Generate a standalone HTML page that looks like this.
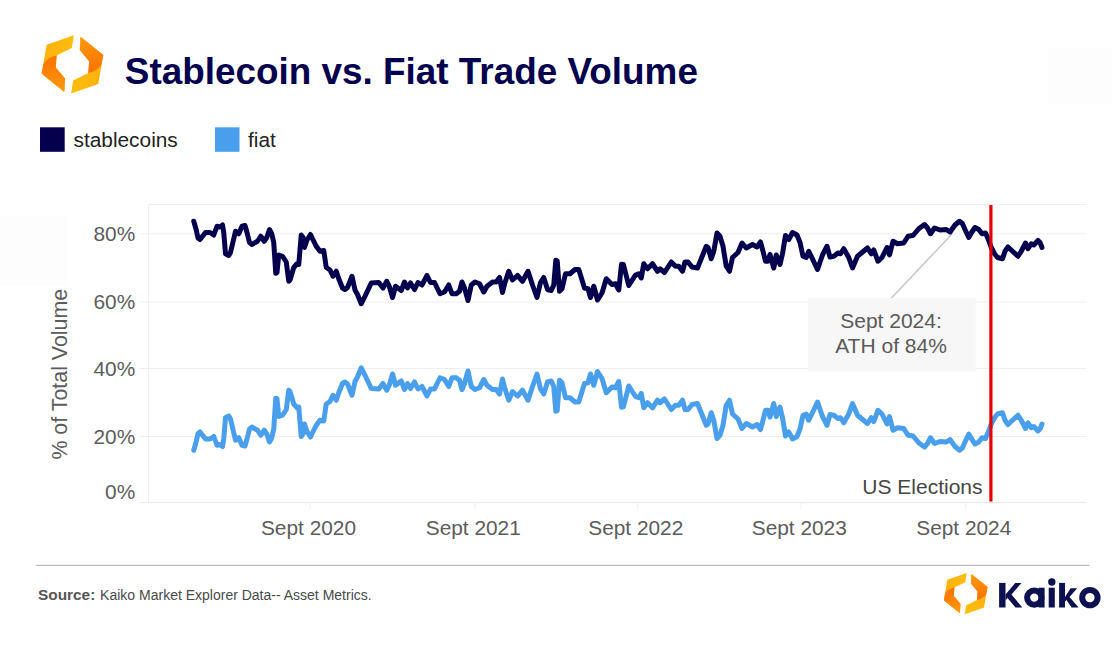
<!DOCTYPE html>
<html><head><meta charset="utf-8"><title>Stablecoin vs. Fiat Trade Volume</title>
<style>
html,body{margin:0;padding:0;background:#fff;}
body{width:1120px;height:648px;overflow:hidden;font-family:"Liberation Sans",sans-serif;}
svg{display:block;}
text{font-family:"Liberation Sans",sans-serif;}
</style></head><body>
<svg width="1120" height="648" viewBox="0 0 1120 648">
<defs>
<linearGradient id="gy" gradientUnits="userSpaceOnUse" x1="-30" y1="0" x2="2" y2="0"><stop offset="0" stop-color="#fdb20f"/><stop offset="1" stop-color="#ffbd0a"/></linearGradient>
<linearGradient id="go" gradientUnits="userSpaceOnUse" x1="-20" y1="-8" x2="-12" y2="28"><stop offset="0" stop-color="#ff7200"/><stop offset="1" stop-color="#ff9a0c"/></linearGradient>
<g id="half">
<path d="M-25.85,-19.6 L1.35,-29.1 L-0.65,-16.3 L-15.85,-8.7 L-16.65,3.1 L-7.35,14.3 L-8.15,27.6 L-30.85,9.3 Z" fill="url(#gy)"/>
<path d="M-28.85,-0.7 Q-23.5,-7.6 -15.85,-8.7 L-16.65,3.1 L-7.35,14.3 L-8.15,27.6 L-30.85,9.3 Z" fill="url(#go)"/>
</g>
<g id="logo"><use href="#half"/><use href="#half" transform="rotate(180)"/></g>
</defs>
<rect x="0" y="0" width="1120" height="648" fill="#ffffff"/>
<rect x="0" y="216" width="67" height="70" fill="#fdfdfd"/>
<rect x="1048.5" y="48" width="63" height="56" fill="#fdfdfd"/>

<use href="#logo" transform="translate(72.45,64.3)"/>
<text transform="translate(124.8,83.6) scale(0.981,1)" font-size="37.6" font-weight="700" fill="#04004e">Stablecoin vs. Fiat Trade Volume</text>
<rect x="40" y="127.3" width="24.7" height="24.5" fill="#04004e"/>
<text x="73.5" y="146.5" font-size="20.85" fill="#222">stablecoins</text>
<rect x="215" y="127.3" width="24.5" height="24.5" fill="#4a9fec"/>
<text x="248" y="146.5" font-size="20.85" fill="#222">fiat</text>
<g stroke="#efefef" stroke-width="1.2" fill="none">
<line x1="148.5" y1="204.5" x2="1086.5" y2="204.5"/>
<line x1="148.5" y1="204.5" x2="148.5" y2="502.5"/>
<line x1="139.5" y1="233.75" x2="1086.5" y2="233.75"/>
<line x1="139.5" y1="302" x2="1086.5" y2="302"/>
<line x1="139.5" y1="368.5" x2="1086.5" y2="368.5"/>
<line x1="139.5" y1="436.5" x2="1086.5" y2="436.5"/>
<line x1="139.5" y1="502.5" x2="1086.5" y2="502.5" stroke="#e9e9e9"/>
<line x1="310.2" y1="502.5" x2="310.2" y2="509.5" stroke="#f1f1f1"/>
<line x1="475" y1="502.5" x2="475" y2="509.5" stroke="#f1f1f1"/>
<line x1="637.5" y1="502.5" x2="637.5" y2="509.5" stroke="#f1f1f1"/>
<line x1="801" y1="502.5" x2="801" y2="509.5" stroke="#f1f1f1"/>
<line x1="965.5" y1="502.5" x2="965.5" y2="509.5" stroke="#f1f1f1"/>
</g>
<text x="135.2" y="241.15" font-size="20.85" fill="#5c5c5c" text-anchor="end">80%</text>
<text x="135.2" y="309.4" font-size="20.85" fill="#5c5c5c" text-anchor="end">60%</text>
<text x="135.2" y="375.9" font-size="20.85" fill="#5c5c5c" text-anchor="end">40%</text>
<text x="135.2" y="443.9" font-size="20.85" fill="#5c5c5c" text-anchor="end">20%</text>
<text x="135.2" y="498.79999999999995" font-size="20.85" fill="#5c5c5c" text-anchor="end">0%</text>
<text transform="translate(66.9,374.2) rotate(-90)" font-size="21.4" fill="#5c5c5c" text-anchor="middle">% of Total Volume</text>
<text x="308.5" y="535" font-size="20.85" fill="#5c5c5c" text-anchor="middle">Sept 2020</text>
<text x="473.3" y="535" font-size="20.85" fill="#5c5c5c" text-anchor="middle">Sept 2021</text>
<text x="635.8" y="535" font-size="20.85" fill="#5c5c5c" text-anchor="middle">Sept 2022</text>
<text x="799.3" y="535" font-size="20.85" fill="#5c5c5c" text-anchor="middle">Sept 2023</text>
<text x="963.8" y="535" font-size="20.85" fill="#5c5c5c" text-anchor="middle">Sept 2024</text>
<line x1="891" y1="298.5" x2="952.5" y2="233.5" stroke="#c6c6c6" stroke-width="1.5"/>
<path d="M193.75,450.25 L196.25,441.50 L198.00,433.50 L200.00,432.00 L205.50,439.00 L210.00,439.00 L213.75,436.50 L217.00,445.25 L219.50,444.50 L222.50,446.50 L223.75,439.00 L225.50,417.75 L228.75,416.00 L230.50,419.00 L235.50,440.25 L238.75,437.75 L242.00,445.25 L245.00,446.00 L247.00,439.00 L249.50,429.00 L251.75,427.00 L257.50,430.25 L260.75,435.25 L264.25,430.25 L266.75,434.00 L269.50,442.00 L271.75,437.75 L273.75,429.00 L275.75,398.25 L277.00,399.00 L278.75,416.50 L282.50,415.25 L286.25,409.50 L288.75,390.25 L290.00,391.50 L293.75,404.00 L297.00,407.75 L298.75,407.00 L301.25,436.50 L303.00,434.00 L304.50,424.00 L307.00,431.50 L310.50,437.00 L312.50,432.75 L316.25,425.25 L320.00,420.25 L323.75,421.00 L326.25,404.00 L330.00,401.50 L333.00,395.25 L336.25,400.25 L338.75,392.75 L342.50,383.50 L345.00,382.00 L347.50,384.00 L352.00,395.25 L355.00,381.50 L357.50,377.00 L361.25,367.75 L365.00,375.25 L371.25,388.50 L378.75,389.00 L383.00,383.50 L386.75,390.25 L389.25,385.25 L392.50,374.00 L395.50,385.25 L401.25,381.00 L404.50,389.50 L407.50,383.50 L410.50,388.50 L414.50,382.00 L418.00,389.00 L422.00,386.50 L427.00,396.00 L430.50,389.00 L434.50,389.00 L440.00,377.75 L444.50,379.50 L448.75,386.50 L452.00,377.75 L456.25,377.75 L459.50,380.25 L462.00,389.50 L464.50,383.50 L468.00,371.00 L471.25,386.50 L475.00,389.50 L479.50,387.75 L483.75,379.50 L487.00,385.25 L492.50,389.50 L496.25,389.50 L499.50,394.00 L502.50,379.00 L505.00,389.00 L508.75,400.25 L512.50,391.50 L517.50,396.00 L522.50,390.25 L528.00,400.25 L532.50,386.50 L537.00,374.00 L540.50,389.00 L543.75,394.00 L547.50,382.00 L551.25,381.00 L553.75,386.50 L555.80,411.20 L557.20,410.70 L559.50,380.25 L562.00,382.75 L565.50,397.75 L570.00,397.75 L575.00,402.00 L578.75,402.00 L584.50,383.50 L588.00,382.75 L590.50,374.00 L593.75,385.25 L597.50,371.50 L602.00,378.50 L606.25,392.75 L612.00,387.00 L615.50,387.75 L618.75,381.50 L621.50,407.20 L623.40,407.00 L628.75,386.00 L635.50,396.50 L638.75,397.75 L641.25,393.50 L643.75,407.75 L647.50,402.75 L652.50,407.75 L657.50,400.25 L660.00,402.75 L664.50,399.00 L671.25,409.50 L675.50,405.25 L678.75,405.25 L682.50,400.25 L685.00,409.50 L688.00,409.50 L692.00,404.50 L697.50,403.50 L706.25,425.25 L708.00,424.00 L711.25,412.75 L713.75,420.25 L717.00,438.50 L720.00,435.25 L723.00,425.25 L726.25,405.25 L729.50,400.25 L732.50,414.00 L738.00,419.00 L742.00,428.50 L746.25,423.50 L752.50,427.00 L757.00,424.50 L760.50,429.50 L763.00,420.25 L765.50,410.25 L768.00,410.25 L770.00,417.00 L773.75,403.50 L776.25,416.50 L780.00,407.00 L782.50,417.75 L785.50,436.00 L788.75,432.00 L792.50,439.00 L797.00,436.50 L800.00,429.00 L803.00,415.25 L806.25,414.00 L808.75,420.25 L813.00,411.50 L817.50,402.00 L822.50,416.50 L827.00,425.25 L830.00,414.50 L833.75,415.25 L838.00,418.50 L840.50,417.75 L843.75,422.75 L848.75,414.00 L852.50,403.50 L857.50,415.25 L862.00,419.00 L867.50,423.50 L871.25,417.75 L873.75,421.50 L878.00,410.25 L882.00,414.00 L887.00,424.00 L889.50,416.50 L893.00,430.25 L897.50,427.75 L903.75,428.50 L908.00,435.25 L913.00,436.00 L918.75,442.75 L924.50,447.00 L927.50,443.50 L930.50,437.75 L934.50,443.50 L940.00,441.50 L946.25,442.00 L950.00,439.50 L955.00,446.50 L959.50,450.25 L962.50,447.75 L965.00,442.00 L968.75,434.00 L971.25,438.50 L975.00,444.00 L978.75,442.00 L982.00,437.75 L985.50,438.50 L988.00,432.75 L991.25,424.00 L994.50,417.75 L997.50,414.00 L1002.50,412.75 L1005.00,420.25 L1008.00,424.50 L1012.50,420.25 L1018.00,415.25 L1021.25,420.25 L1025.50,428.50 L1028.00,422.75 L1031.25,427.75 L1033.75,426.50 L1038.00,431.00 L1040.00,429.00 L1042.00,424.00" fill="none" stroke="#4a9fec" stroke-width="5" stroke-linejoin="round" stroke-linecap="round"/>
<path d="M193.75,221.25 L196.25,230.00 L198.00,238.00 L200.00,239.50 L205.50,232.50 L210.00,232.50 L213.75,235.00 L217.00,226.25 L219.50,227.00 L222.50,225.00 L223.75,232.50 L225.50,253.75 L228.75,255.50 L230.50,252.50 L235.50,231.25 L238.75,233.75 L242.00,226.25 L245.00,225.50 L247.00,232.50 L249.50,242.50 L251.75,244.50 L257.50,241.25 L260.75,236.25 L264.25,241.25 L266.75,237.50 L269.50,229.50 L271.75,233.75 L273.75,242.50 L275.75,273.25 L277.00,272.50 L278.75,255.00 L282.50,256.25 L286.25,262.00 L288.75,281.25 L290.00,280.00 L293.75,267.50 L297.00,263.75 L298.75,264.50 L301.25,235.00 L303.00,237.50 L304.50,247.50 L307.00,240.00 L310.50,234.50 L312.50,238.75 L316.25,246.25 L320.00,251.25 L323.75,250.50 L326.25,267.50 L330.00,270.00 L333.00,276.25 L336.25,271.25 L338.75,278.75 L342.50,288.00 L345.00,289.50 L347.50,287.50 L352.00,276.25 L355.00,290.00 L357.50,294.50 L361.25,303.75 L365.00,296.25 L371.25,283.00 L378.75,282.50 L383.00,288.00 L386.75,281.25 L389.25,286.25 L392.50,297.50 L395.50,286.25 L401.25,290.50 L404.50,282.00 L407.50,288.00 L410.50,283.00 L414.50,289.50 L418.00,282.50 L422.00,285.00 L427.00,275.50 L430.50,282.50 L434.50,282.50 L440.00,293.75 L444.50,292.00 L448.75,285.00 L452.00,293.75 L456.25,293.75 L459.50,291.25 L462.00,282.00 L464.50,288.00 L468.00,300.50 L471.25,285.00 L475.00,282.00 L479.50,283.75 L483.75,292.00 L487.00,286.25 L492.50,282.00 L496.25,282.00 L499.50,277.50 L502.50,292.50 L505.00,282.50 L508.75,271.25 L512.50,280.00 L517.50,275.50 L522.50,281.25 L528.00,271.25 L532.50,285.00 L537.00,297.50 L540.50,282.50 L543.75,277.50 L547.50,289.50 L551.25,290.50 L553.75,285.00 L555.80,260.30 L557.20,260.80 L559.50,291.25 L562.00,288.75 L565.50,273.75 L570.00,273.75 L575.00,269.50 L578.75,269.50 L584.50,288.00 L588.00,288.75 L590.50,297.50 L593.75,286.25 L597.50,300.00 L602.00,293.00 L606.25,278.75 L612.00,284.50 L615.50,283.75 L618.75,290.00 L621.50,264.30 L623.40,264.50 L628.75,285.50 L635.50,275.00 L638.75,273.75 L641.25,278.00 L643.75,263.75 L647.50,268.75 L652.50,263.75 L657.50,271.25 L660.00,268.75 L664.50,272.50 L671.25,262.00 L675.50,266.25 L678.75,266.25 L682.50,271.25 L685.00,262.00 L688.00,262.00 L692.00,267.00 L697.50,268.00 L706.25,246.25 L708.00,247.50 L711.25,258.75 L713.75,251.25 L717.00,233.00 L720.00,236.25 L723.00,246.25 L726.25,266.25 L729.50,271.25 L732.50,257.50 L738.00,252.50 L742.00,243.00 L746.25,248.00 L752.50,244.50 L757.00,247.00 L760.50,242.00 L763.00,251.25 L765.50,261.25 L768.00,261.25 L770.00,254.50 L773.75,268.00 L776.25,255.00 L780.00,264.50 L782.50,253.75 L785.50,235.50 L788.75,239.50 L792.50,232.50 L797.00,235.00 L800.00,242.50 L803.00,256.25 L806.25,257.50 L808.75,251.25 L813.00,260.00 L817.50,269.50 L822.50,255.00 L827.00,246.25 L830.00,257.00 L833.75,256.25 L838.00,253.00 L840.50,253.75 L843.75,248.75 L848.75,257.50 L852.50,268.00 L857.50,256.25 L862.00,252.50 L867.50,248.00 L871.25,253.75 L873.75,250.00 L878.00,261.25 L882.00,257.50 L887.00,247.50 L889.50,255.00 L893.00,241.25 L897.50,243.75 L903.75,243.00 L908.00,236.25 L913.00,235.50 L918.75,228.75 L924.50,224.50 L927.50,228.00 L930.50,233.75 L934.50,228.00 L940.00,230.00 L946.25,229.50 L950.00,232.00 L955.00,225.00 L959.50,221.25 L962.50,223.75 L965.00,229.50 L968.75,237.50 L971.25,233.00 L975.00,227.50 L978.75,229.50 L982.00,233.75 L985.50,233.00 L988.00,238.75 L991.25,247.50 L994.50,253.75 L997.50,257.50 L1002.50,258.75 L1005.00,251.25 L1008.00,247.00 L1012.50,251.25 L1018.00,256.25 L1021.25,251.25 L1025.50,243.00 L1028.00,248.75 L1031.25,243.75 L1033.75,245.00 L1038.00,240.50 L1040.00,242.50 L1042.00,247.50" fill="none" stroke="#04004e" stroke-width="5" stroke-linejoin="round" stroke-linecap="round"/>
<rect x="808.2" y="298.2" width="167.4" height="73.3" fill="#f7f7f7"/>
<text x="891" y="327.8" font-size="21" fill="#5a5a5a" text-anchor="middle">Sept 2024:</text>
<text x="891" y="352.8" font-size="21" fill="#5a5a5a" text-anchor="middle">ATH of 84%</text>
<line x1="990.9" y1="205" x2="990.9" y2="501.6" stroke="#e80000" stroke-width="3.2"/>
<text x="982.5" y="493.8" font-size="21" fill="#464646" text-anchor="end">US Elections</text>
<line x1="36" y1="565.4" x2="1089.3" y2="565.4" stroke="#bcbcbc" stroke-width="1.4"/>
<text x="38" y="600" font-size="14" fill="#4a4a4a"><tspan font-weight="700" font-size="15.4" fill="#555">Source:</tspan><tspan dx="4.8">Kaiko Market Explorer Data-- Asset Metrics.</tspan></text>
<use href="#logo" transform="translate(965.7,593.7) scale(0.71)"/>
<g fill="#0d1150">
<rect x="999.1" y="582.9" width="6.4" height="24.6"/>
<path d="M1005.5,594.5 L1015.2,582.9 L1021.5,582.9 L1011.5,594.5 L1022.3,607.5 L1015.5,607.5 L1007.5,598 L1005.5,600.5 Z"/>
<rect x="1038.6" y="587.7" width="6" height="19.8"/>
<rect x="1048.7" y="587.7" width="6.1" height="19.8"/>
<circle cx="1051.8" cy="582" r="3.7"/>
<rect x="1059.1" y="582.9" width="5.9" height="24.6"/>
<path d="M1065,597 L1070.6,588.2 L1077.2,588.2 L1069.5,597 L1078.6,607.5 L1071.6,607.5 L1066.5,600 L1065,601.5 Z"/>
</g>
<circle cx="1034.3" cy="597.6" r="7.2" fill="none" stroke="#0d1150" stroke-width="6"/>
<circle cx="1089.9" cy="597.6" r="7.7" fill="none" stroke="#0d1150" stroke-width="6"/>

</svg></body></html>
